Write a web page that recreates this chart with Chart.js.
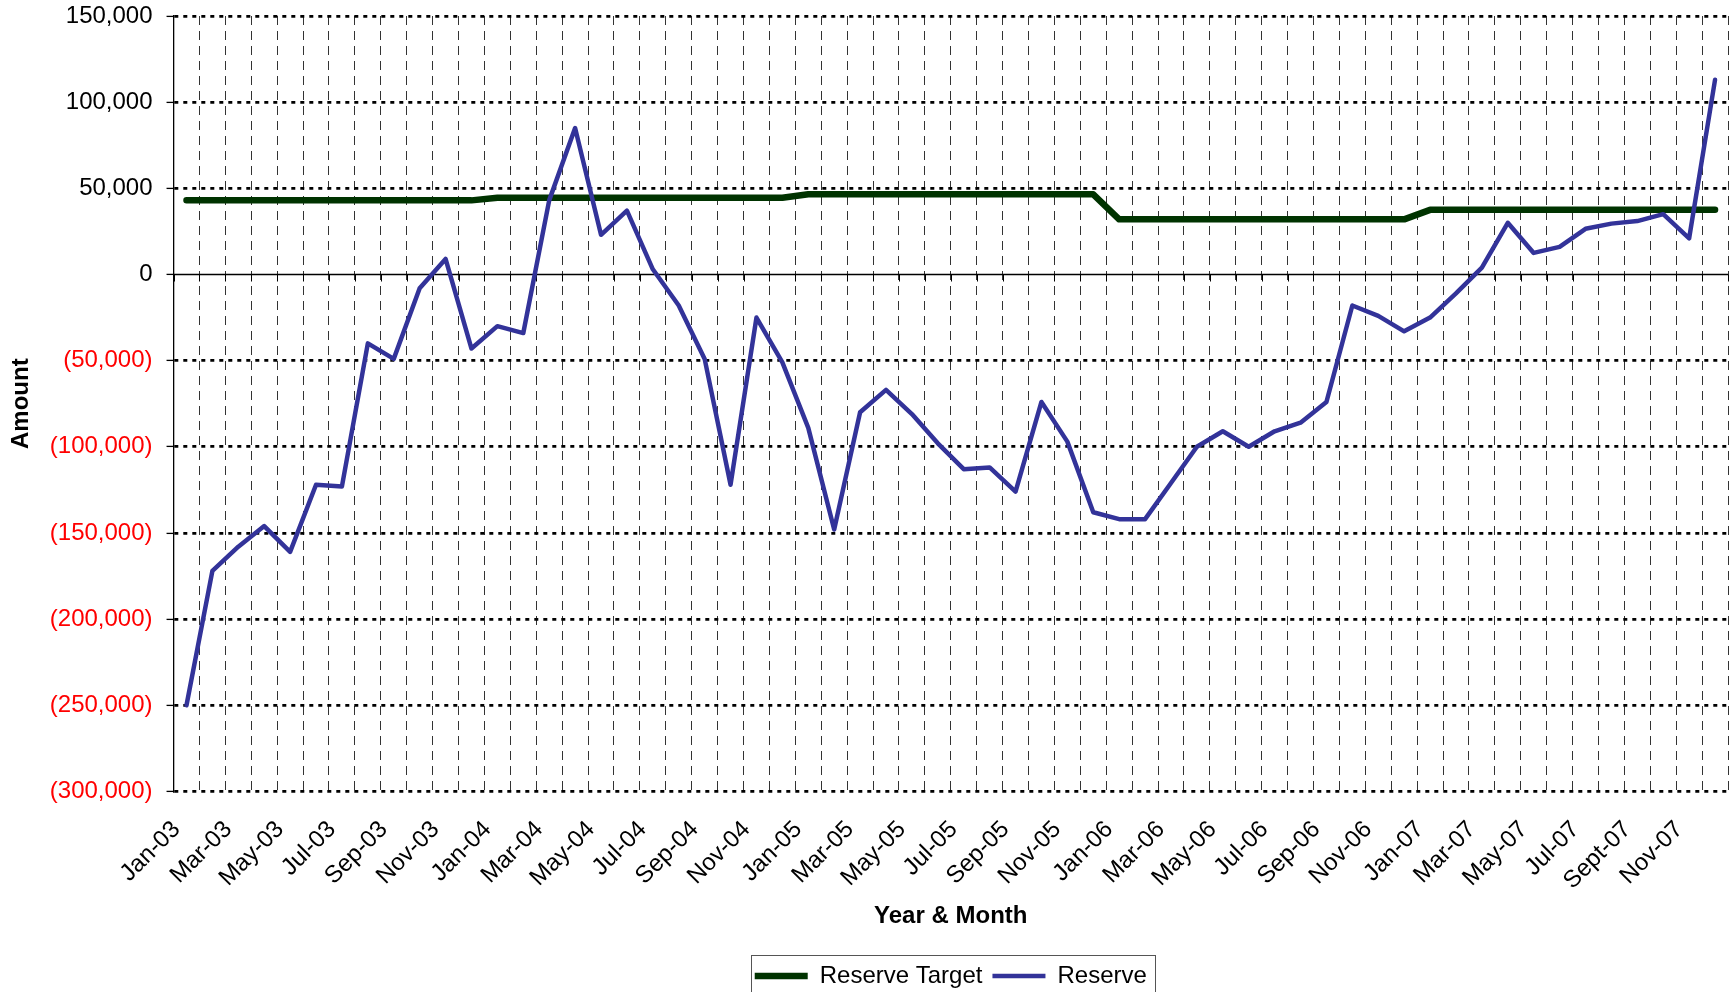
<html>
<head>
    <title>Reserve vs Reserve Target</title>
    <script src="https://cdn.jsdelivr.net/npm/chart.js@4.4.0/dist/chart.umd.min.js"></script>
    <style>
        body { margin: 0; overflow: hidden; background: #fff; }
        #wrap { width: 1735px; height: 1000px; position: relative; }
    </style>
</head>
<body>
<div id="wrap">
    <canvas id="reserveChart"></canvas>
</div>

<script>
  // months Jan-03 .. Dec-07
  const months = [
    'Jan-03', 'Feb-03', 'Mar-03', 'Apr-03', 'May-03', 'Jun-03', 'Jul-03', 'Aug-03', 'Sep-03', 'Oct-03', 'Nov-03', 'Dec-03',
    'Jan-04', 'Feb-04', 'Mar-04', 'Apr-04', 'May-04', 'Jun-04', 'Jul-04', 'Aug-04', 'Sep-04', 'Oct-04', 'Nov-04', 'Dec-04',
    'Jan-05', 'Feb-05', 'Mar-05', 'Apr-05', 'May-05', 'Jun-05', 'Jul-05', 'Aug-05', 'Sep-05', 'Oct-05', 'Nov-05', 'Dec-05',
    'Jan-06', 'Feb-06', 'Mar-06', 'Apr-06', 'May-06', 'Jun-06', 'Jul-06', 'Aug-06', 'Sep-06', 'Oct-06', 'Nov-06', 'Dec-06',
    'Jan-07', 'Feb-07', 'Mar-07', 'Apr-07', 'May-07', 'Jun-07', 'Jul-07', 'Aug-07', 'Sept-07', 'Oct-07', 'Nov-07', 'Dec-07'
  ]

  const reserveTarget = [
    43000, 43000, 43000, 43000, 43000, 43000, 43000, 43000, 43000, 43000, 43000, 43000,
    44500, 44500, 44500, 44500, 44500, 44500, 44500, 44500, 44500, 44500, 44500, 44500,
    46500, 46500, 46500, 46500, 46500, 46500, 46500, 46500, 46500, 46500, 46500, 46500,
    32000, 32000, 32000, 32000, 32000, 32000, 32000, 32000, 32000, 32000, 32000, 32000,
    37500, 37500, 37500, 37500, 37500, 37500, 37500, 37500, 37500, 37500, 37500, 37500
  ]

  const reserve = [
    -250000, -172000, -158000, -146000, -161000, -122000, -123000, -40000, -49000, -8000, 9000, -43000,
    -30000, -34000, 43000, 85000, 23000, 37000, 3000, -18000, -49000, -122000, -25000, -51000,
    -89000, -148000, -80000, -67000, -81000, -98000, -113000, -112000, -126000, -74000, -97000, -138000,
    -142000, -142000, -121000, -100000, -91000, -100000, -91000, -86000, -74000, -18000, -24000, -33000,
    -25000, -11000, 4000, 30000, 12500, 16000, 26500, 29500, 31000, 35000, 21000, 113000
  ]

  const yMin = -300000, yMax = 150000, yStep = 50000

  function fmt(v) {
    let s = Math.abs(v).toLocaleString('en-US')
    return v < 0 ? '(' + s + ')' : s
  }

  // solid zero line with small tick marks (axis crosses at 0)
  const zeroLine = {
    id: 'zeroLine',
    beforeDatasetsDraw(chart) {
      const {ctx, chartArea, scales: {x, y}} = chart
      const y0 = Math.round(y.getPixelForValue(0)) + 0.5
      ctx.save()
      ctx.strokeStyle = '#000'
      ctx.lineWidth = 1.3
      ctx.beginPath()
      ctx.moveTo(chartArea.left, y0)
      ctx.lineTo(chartArea.right, y0)
      ctx.stroke()
      ctx.lineWidth = 1
      ctx.beginPath()
      for (let i = 0; i <= months.length; i++) {
        let px = Math.round(x.getPixelForValue(i - 0.5)) + 0.5
        ctx.moveTo(px, y0)
        ctx.lineTo(px, y0 + 7)
      }
      ctx.stroke()
      ctx.restore()
    }
  }

  // centre legend under the plot area (like Excel) and frame it
  const legendFrame = {
    id: 'legendFrame',
    afterLayout(chart) {
      const lg = chart.legend, ca = chart.chartArea
      const shift = (ca.left + ca.right) / 2 - (lg.left + lg.right) / 2
      lg.left += shift
      lg.right += shift
    },
    afterDraw(chart) {
      const boxes = chart.legend.legendHitBoxes
      if (!boxes || !boxes.length) return
      let left = Math.min(...boxes.map(b => b.left))
      let right = Math.max(...boxes.map(b => b.left + b.width))
      let top = Math.min(...boxes.map(b => b.top))
      let bottom = Math.max(...boxes.map(b => b.top + b.height))
      const ctx = chart.ctx
      ctx.save()
      ctx.strokeStyle = '#555'
      ctx.lineWidth = 1
      ctx.strokeRect(Math.round(left - 4) + 0.5, Math.round(top - 9) + 0.5, Math.round(right - left + 12), Math.round(bottom - top + 18))
      ctx.restore()
    }
  }

  Chart.defaults.font.family = '"Liberation Sans", Arial, sans-serif'
  Chart.defaults.color = '#000'

  new Chart(document.getElementById('reserveChart'), {
    type: 'line',
    data: {
      labels: months,
      datasets: [
        {
          label: 'Reserve Target',
          data: reserveTarget,
          borderColor: '#003300',
          backgroundColor: '#003300',
          borderWidth: 6.5,
          borderCapStyle: 'round',
          borderJoinStyle: 'round',
          pointRadius: 0,
          pointStyle: 'line',
          tension: 0,
          fill: false,
          order: 1
        },
        {
          label: 'Reserve',
          data: reserve,
          borderColor: '#333399',
          backgroundColor: '#333399',
          borderWidth: 4.5,
          borderCapStyle: 'round',
          borderJoinStyle: 'round',
          pointRadius: 0,
          pointStyle: 'line',
          tension: 0,
          fill: false,
          order: 0
        }
      ]
    },
    options: {
      responsive: true,
      maintainAspectRatio: false,
      animation: false,
      layout: {padding: {top: 0, left: 3, right: 7, bottom: 2}},
      plugins: {
        tooltip: {enabled: false},
        legend: {
          position: 'bottom',
          labels: {
            usePointStyle: true,
            pointStyleWidth: 53,
            padding: 10,
            color: '#000',
            font: {size: 24},
            sort: (a, b) => a.datasetIndex - b.datasetIndex
          }
        }
      },
      scales: {
        x: {
          offset: true,
          // rotated labels may hang under the y axis, as in Excel
          afterFit: scale => { scale.paddingLeft = 0; scale.paddingRight = 0 },
          grid: {
            offset: true,
            color: '#333',
            lineWidth: 1,
            drawTicks: false,
            borderDash: [9, 6]
          },
          border: {display: false, dash: [9, 6]},
          ticks: {
            autoSkip: false,
            maxRotation: 45,
            minRotation: 45,
            padding: 24,
            labelOffset: -10,
            font: {size: 24},
            color: '#000',
            callback: function (val, index) {
              return index % 2 === 0 ? this.getLabelForValue(val) : ''
            }
          },
          title: {
            display: true,
            text: 'Year & Month',
            font: {size: 24, weight: 'bold'},
            padding: {top: -17, bottom: 23}
          }
        },
        y: {
          min: yMin,
          max: yMax,
          afterFit: scale => { scale.paddingTop = 16 },
          grid: {
            color: ctx => ctx.tick && ctx.tick.value === 0 ? 'rgba(0,0,0,0)' : '#000',
            lineWidth: 2.8,
            borderDash: [4, 5],
            drawTicks: true,
            tickLength: 7,
            tickColor: '#000',
            tickWidth: 1.3,
            tickBorderDash: []
          },
          border: {display: true, color: '#000', width: 1.3, dash: [4, 5]},
          ticks: {
            stepSize: yStep,
            padding: 14,
            font: {size: 24, lineHeight: 1},
            color: ctx => ctx.tick.value < 0 ? '#FF0000' : '#000',
            callback: v => fmt(v)
          },
          title: {
            display: true,
            text: 'Amount',
            font: {size: 24, weight: 'bold'},
            padding: {top: 4, bottom: 0}
          }
        }
      }
    },
    plugins: [zeroLine, legendFrame]
  })
</script>
</body>
</html>
